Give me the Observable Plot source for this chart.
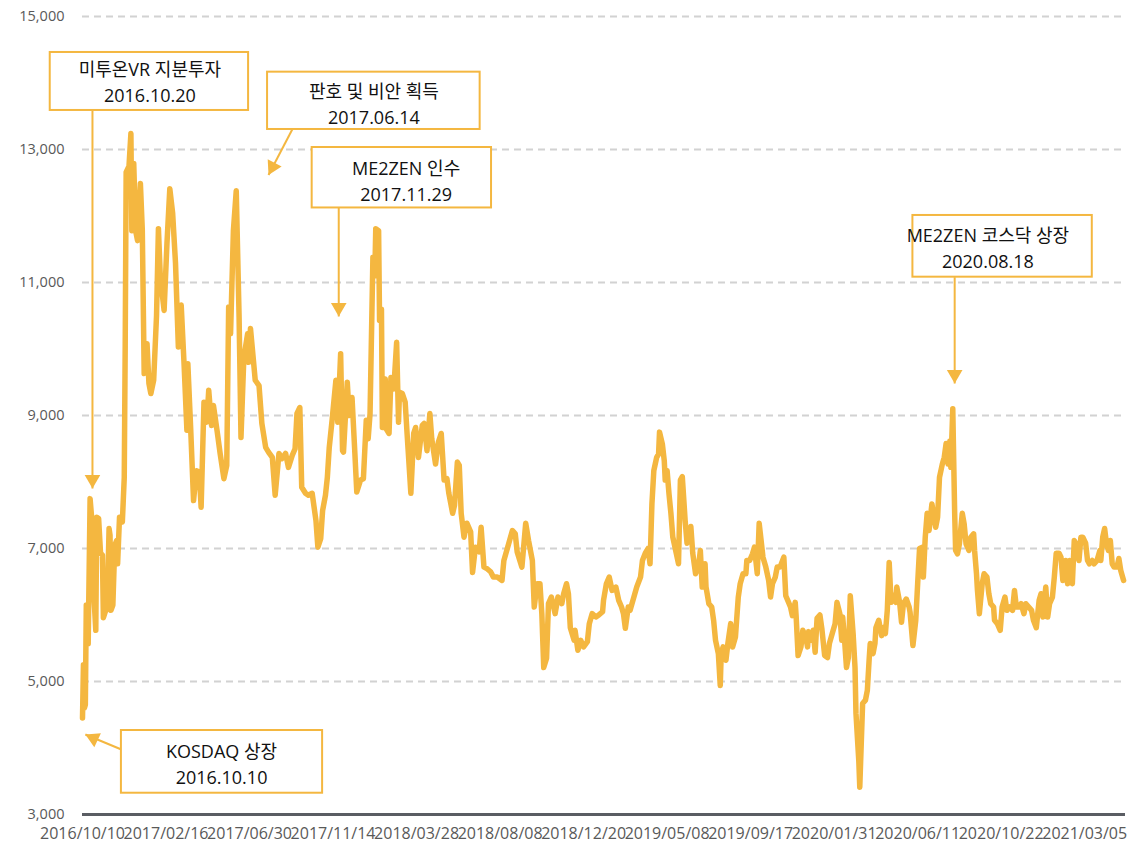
<!DOCTYPE html>
<html>
<head>
<meta charset="utf-8">
<script src="https://cdn.jsdelivr.net/npm/d3@7"></script>
<script src="https://cdn.jsdelivr.net/npm/@observablehq/plot@0.6"></script>
<style>
  html, body { margin: 0; padding: 0; background: #fff; }
  #chart { width: 1132px; height: 848px; }
</style>
</head>
<body>
<div id="chart"></div>
<script>
// trading-day index (0 = 2016/10/10) and closing price
const series = [[0,4450],[1,5250],[2,4600],[3,4650],[4,6150],[6,5570],[8,7750],[10,7400],[12,6300],[14,5770],[15,7470],[17,7450],[19,6930],[21,6900],[22,5960],[24,6050],[26,6100],[28,7300],[29,7200],[30,6070],[32,6150],[34,7050],[36,7120],[37,6770],[39,7470],[42,7400],[44,8070],[45,10050],[46,12660],[49,12750],[51,13240],[52,11780],[54,12790],[56,11780],[58,11630],[61,12490],[63,11800],[65,9630],[68,10080],[70,9480],[72,9330],[75,9530],[78,10500],[80,11810],[82,11080],[86,10580],[89,11590],[92,12410],[95,12040],[98,11290],[101,10030],[104,10660],[107,9780],[110,8780],[111,9780],[114,8800],[117,7720],[120,8170],[123,8150],[125,7620],[128,9200],[131,8900],[133,9380],[136,8850],[138,9150],[142,8750],[145,8430],[149,8050],[152,8250],[154,10630],[156,10230],[159,11780],[162,12380],[165,10480],[167,8670],[170,9870],[174,10230],[175,9800],[177,10310],[179,10000],[182,9530],[186,9450],[189,8880],[193,8520],[196,8450],[200,8370],[203,7800],[207,8430],[210,8350],[214,8430],[217,8220],[221,8400],[224,8500],[226,9030],[229,9120],[231,7920],[235,7830],[238,7800],[242,7830],[246,7420],[248,7020],[251,7150],[253,7570],[256,7800],[258,8070],[260,8520],[263,8930],[267,9530],[269,8900],[272,9930],[274,8470],[275,8450],[279,9500],[281,9000],[284,9270],[287,8430],[289,7850],[293,8030],[296,8050],[299,8930],[301,8650],[303,9030],[306,11380],[308,11100],[309,11810],[312,11780],[313,10430],[315,10600],[316,8820],[319,9550],[320,8800],[323,8730],[325,9570],[328,9400],[331,10100],[333,8900],[334,9350],[337,9330],[340,9200],[342,8730],[346,7830],[349,8730],[351,8820],[354,8370],[358,8850],[360,8880],[363,8470],[366,9030],[368,8650],[372,8270],[375,8600],[378,8730],[381,8030],[384,8050],[386,7830],[390,7530],[392,7650],[395,8300],[397,8250],[399,7530],[402,7170],[405,7380],[409,7250],[411,6640],[414,7020],[418,6950],[420,7320],[423,6720],[426,6700],[430,6650],[433,6570],[437,6570],[442,6520],[444,6820],[448,7020],[453,7270],[456,7220],[458,6950],[463,6720],[467,7380],[470,7120],[474,6820],[476,6120],[479,6470],[482,6470],[484,6020],[486,5210],[489,5350],[491,6170],[494,6270],[498,6020],[501,6270],[505,6170],[507,6320],[510,6470],[512,6320],[514,5810],[518,5620],[519,5770],[522,5470],[525,5620],[528,5520],[532,5600],[534,5870],[537,6020],[541,5970],[544,6000],[548,6050],[549,6220],[552,6470],[555,6570],[558,6370],[562,6420],[565,6220],[568,6120],[570,6020],[572,5800],[575,6120],[577,6070],[581,6270],[584,6420],[588,6570],[590,6820],[593,6930],[596,7000],[598,6770],[600,7670],[602,8170],[605,8370],[607,8420],[608,8750],[611,8570],[613,8320],[614,8030],[616,8170],[618,7820],[620,7530],[622,7170],[625,6970],[628,6770],[630,8030],[632,8080],[635,7420],[637,7080],[641,7330],[643,6930],[646,6620],[649,6720],[651,6970],[653,6420],[656,6770],[657,6420],[660,6170],[663,6120],[665,5920],[667,5620],[670,5420],[672,4940],[673,5420],[675,5520],[678,5320],[680,5570],[683,5870],[685,5520],[688,5670],[691,6270],[693,6470],[696,6620],[699,6620],[700,6820],[703,6820],[706,6920],[708,7020],[711,6620],[713,7380],[717,6870],[720,6720],[723,6520],[725,6270],[727,6470],[730,6570],[732,6720],[735,6720],[739,6870],[741,6290],[744,6190],[746,6120],[748,5990],[751,6190],[752,5970],[754,5390],[757,5520],[759,5770],[762,5670],[764,5520],[765,5750],[768,5620],[770,5770],[772,5440],[774,5950],[777,6000],[779,5800],[782,5390],[785,5360],[787,5570],[790,5720],[793,5870],[795,6190],[798,6020],[800,5620],[801,5970],[803,5620],[805,5210],[807,5360],[809,6290],[812,5720],[814,5210],[815,4520],[818,3800],[819,3410],[822,4670],[825,4720],[827,4870],[829,5360],[830,5570],[833,5420],[835,5570],[836,5810],[839,5920],[842,5690],[844,5810],[846,5720],[848,6070],[850,6790],[852,6190],[855,6290],[857,6190],[858,6420],[861,6190],[863,5890],[865,6170],[868,6240],[871,6120],[872,6040],[875,5540],[878,5920],[880,6470],[882,7000],[885,7020],[886,6570],[888,7170],[890,7530],[892,7270],[895,7670],[899,7320],[901,7470],[903,8070],[906,8270],[908,8370],[910,8580],[912,8270],[914,8620],[915,8220],[917,9100],[919,7530],[920,6970],[922,6920],[924,7070],[927,7530],[929,7370],[931,7070],[934,6970],[936,7170],[939,7220],[940,6970],[942,6620],[943,6370],[945,6020],[948,6470],[950,6620],[953,6570],[955,6320],[957,6170],[960,6120],[961,5920],[964,5870],[967,5770],[969,6120],[972,6270],[974,6070],[977,6120],[980,6070],[982,6370],[984,6120],[987,6120],[989,6170],[992,6020],[994,6170],[997,6120],[1000,6070],[1002,5920],[1005,5810],[1008,6220],[1010,6320],[1012,5970],[1015,6420],[1017,5970],[1019,6170],[1022,6270],[1024,6570],[1026,6930],[1029,6930],[1031,6870],[1033,6520],[1036,6820],[1038,6470],[1040,6820],[1043,6470],[1045,7120],[1047,7070],[1050,6820],[1052,7170],[1054,7170],[1057,7080],[1059,6820],[1061,6770],[1064,6820],[1066,6770],[1069,6820],[1072,6970],[1073,6820],[1075,7170],[1077,7300],[1079,7070],[1081,6970],[1083,7120],[1085,6770],[1087,6720],[1090,6720],[1092,6850],[1094,6670],[1097,6520]];

const xTickDays = [0, 88, 176, 264, 352, 440, 528, 616, 704, 792, 880, 968, 1056];
const xTickLabels = ["2016/10/10","2017/02/16","2017/06/30","2017/11/14","2018/03/28","2018/08/08","2018/12/20","2019/05/08","2019/09/17","2020/01/31","2020/06/11","2020/10/22","2021/03/05"];
const yTicks = [3000, 5000, 7000, 9000, 11000, 13000, 15000];

// annotation events (positions in data units: trading day, price)
const annoLabels = ["미투온VR 지분투자", "판호 및 비안 획득", "ME2ZEN 인수", "ME2ZEN 코스닥 상장", "KOSDAQ 상장"];
const annoDates  = ["2016.10.20", "2017.06.14", "2017.11.29", "2020.08.18", "2016.10.10"];
const annoBox    = [[-34, 175, 13587, 14459], [195, 419, 13301, 14163], [242, 431, 12121, 13030], [875, 1064, 11080, 12008], [41, 253, 3320, 4263]];
const annoText   = [[71, 14030], [307, 13709], [341, 12543], [954, 11537], [146.5, 3774]];
const annoFrom   = [[10.5, 13587], [221, 13301], [270, 12121], [919, 11080], [41, 3977]];
const annoTip    = [[10.5, 7902], [196, 12617], [270, 10489], [919, 9481], [3, 4203]];
const annoAngle  = [180, 207, 180, 180, 295];

const GOLD = "#F4B740";
const data = series.map(([day, price]) => ({day, price}));
const annos = annoLabels.map((label, i) => ({
  text: label + "\n" + annoDates[i],
  bx1: annoBox[i][0], bx2: annoBox[i][1], by1: annoBox[i][2], by2: annoBox[i][3],
  tx: annoText[i][0], ty: annoText[i][1],
  fx: annoFrom[i][0], fy: annoFrom[i][1],
  px: annoTip[i][0], py: annoTip[i][1],
  rot: annoAngle[i]
}));

const headR = 5.8;
const headOff = headR * Math.sqrt(Math.PI / (3 * Math.sqrt(3))) * 2;

const chart = Plot.plot({
  width: 1132,
  height: 848,
  marginLeft: 82,
  marginRight: 7,
  marginTop: 16,
  marginBottom: 34,
  style: {fontFamily: "'Open Sans','Noto Sans CJK KR',sans-serif", background: "#fff"},
  x: {domain: [0, 1099]},
  y: {domain: [3000, 15000]},
  marks: [
    Plot.gridY(yTicks.filter(t => t > 3000), {stroke: "#d2d2d2", strokeOpacity: 1, strokeWidth: 2, strokeDasharray: "7,5"}),
    Plot.ruleY([3000], {stroke: "#5a5d63", strokeWidth: 3}),
    Plot.axisY(yTicks, {tickSize: 0, tickPadding: 18, tickFormat: d3.format(","), fontSize: 14.5, color: "#595959"}),
    Plot.axisX(xTickDays, {tickSize: 0, tickPadding: 13, tickFormat: d => xTickLabels[xTickDays.indexOf(d)], fontSize: 16, color: "#595959"}),
    Plot.line(data, {x: "day", y: "price", stroke: GOLD, strokeWidth: 5.5, strokeLinejoin: "round", strokeLinecap: "round"}),
    Plot.link(annos, {x1: "fx", y1: "fy", x2: "px", y2: "py", stroke: GOLD, strokeWidth: 2}),
    ...annos.map(a => Plot.dot([a], {
      x: "px", y: "py", symbol: "triangle", r: headR, fill: GOLD, stroke: null,
      rotate: a.rot,
      dx: -headOff * Math.sin(a.rot * Math.PI / 180),
      dy: headOff * Math.cos(a.rot * Math.PI / 180)
    })),
    Plot.rect(annos, {x1: "bx1", x2: "bx2", y1: "by1", y2: "by2", fill: "#fff", stroke: GOLD, strokeWidth: 2}),
    Plot.text(annos, {x: "tx", y: "ty", text: "text", fontSize: 18, lineHeight: 1.45, fill: "#111"})
  ]
});
document.getElementById("chart").appendChild(chart);
</script>
</body>
</html>
